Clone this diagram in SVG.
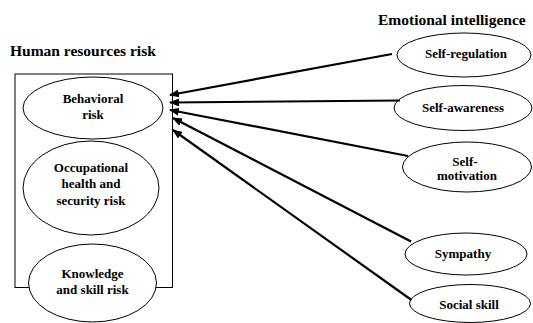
<svg xmlns="http://www.w3.org/2000/svg" width="533" height="323" viewBox="0 0 533 323">
<style>
text{font-family:"Liberation Serif","Times New Roman",serif;font-weight:bold;font-size:13px;fill:#000;text-anchor:middle}
.title{font-size:15.5px;text-anchor:start}
.node{fill:#fff;stroke:#000;stroke-width:1}
.box{fill:none;stroke:#000;stroke-width:1}
.conn{stroke:#000;stroke-width:2.2;fill:none;marker-end:url(#ah)}
</style>
<defs>
<marker id="ah" markerUnits="userSpaceOnUse" markerWidth="10" markerHeight="8" viewBox="0 0 10 8" refX="9" refY="4" orient="auto">
<path d="M0,0 L10,4 L0,8 Z" fill="#000"/>
</marker>
</defs>
<rect width="533" height="323" fill="#fff"/>
<text class="title" x="10" y="56">Human resources risk</text>
<text class="title" x="378" y="25">Emotional intelligence</text>
<g id="hr-risk">
<rect class="box" x="15" y="74" width="157.5" height="213.5"/>
</g>
<g id="behavioral">
<ellipse class="node" cx="93" cy="108" rx="70" ry="31"/>
<text x="93" y="102.5">Behavioral</text>
<text x="93" y="118.5">risk</text>
</g>
<g id="occupational">
<ellipse class="node" cx="91" cy="188" rx="68" ry="47"/>
<text x="91" y="172">Occupational</text>
<text x="91" y="187.5">health and</text>
<text x="91" y="204.5">security risk</text>
</g>
<g id="knowledge">
<ellipse class="node" cx="92.5" cy="283" rx="64" ry="39"/>
<text x="92.5" y="278">Knowledge</text>
<text x="92.5" y="294">and skill risk</text>
</g>
<g id="self-regulation">
<ellipse class="node" cx="464" cy="55" rx="67" ry="22"/>
<text x="466" y="57.5">Self-regulation</text>
</g>
<g id="self-awareness">
<ellipse class="node" cx="463" cy="108" rx="69" ry="22.5"/>
<text x="463" y="111.5">Self-awareness</text>
</g>
<g id="self-motivation">
<ellipse class="node" cx="467" cy="167" rx="64.5" ry="25"/>
<text x="465" y="166">Self-</text>
<text x="467" y="180">motivation</text>
</g>
<g id="sympathy">
<ellipse class="node" cx="466" cy="254" rx="61" ry="21"/>
<text x="463" y="258">Sympathy</text>
</g>
<g id="social-skill">
<ellipse class="node" cx="470" cy="303.5" rx="60.5" ry="19"/>
<text x="469" y="308.5">Social skill</text>
</g>
<g id="connectors">
<line class="conn" x1="392" y1="54" x2="170" y2="95"/>
<line class="conn" x1="400" y1="100.5" x2="170" y2="102.5"/>
<line class="conn" x1="408" y1="156" x2="170" y2="110"/>
<line class="conn" x1="411" y1="241.5" x2="173" y2="118"/>
<line class="conn" x1="411.5" y1="300" x2="173" y2="130"/>
</g>
</svg>
